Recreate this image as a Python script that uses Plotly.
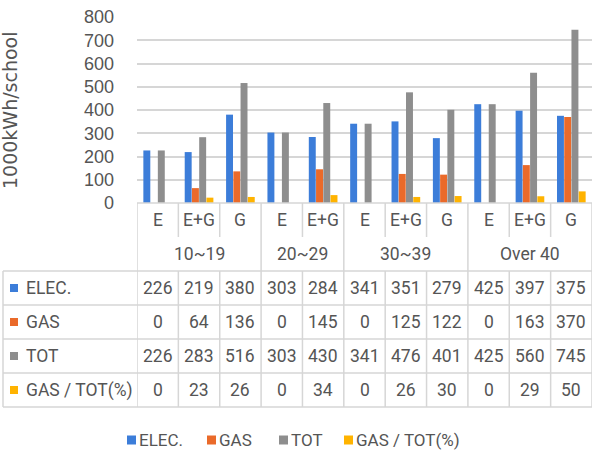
import plotly.graph_objects as go

# ---------------- data ----------------
sub_labels = ["E", "E+G", "G", "E", "E+G", "E", "E+G", "G", "E", "E+G", "G"]
group_labels = ["10~19", "20~29", "30~39", "Over 40"]
group_sizes = [3, 2, 3, 3]
series_names = ["ELEC.", "GAS", "TOT", "GAS / TOT(%)"]
elec = [226, 219, 380, 303, 284, 341, 351, 279, 425, 397, 375]
gas = [0, 64, 136, 0, 145, 0, 125, 122, 0, 163, 370]
tot = [226, 283, 516, 303, 430, 341, 476, 401, 425, 560, 745]
gas_ratio = [0, 23, 26, 0, 34, 0, 26, 30, 0, 29, 50]
y_ticks = [0, 100, 200, 300, 400, 500, 600, 700, 800]
y_title = "1000kWh/school"

series_values = [elec, gas, tot, gas_ratio]
colors = ["#3C7DD9", "#EA6A2A", "#8E8E8E", "#FFB300"]

# ---------------- layout constants ----------------
W, H = 592, 452
ML, MR, MT, MB = 137, 0, 17, 249
PW = W - ML - MR
PH = H - MT - MB
Y0 = MT + PH  # pixel y of value 0


def px_x(px):
    return (px - ML) / PW


def px_y(py):
    return (Y0 - py) / PH


TEXT = "#555555"
LINE = "#D6D6D6"
NARROW = "Liberation Sans Narrow, Arial Narrow, Roboto, sans-serif"
FS = 17.5

n = len(sub_labels)
xs = list(range(n))

fig = go.Figure()
for name, vals, col in zip(series_names, series_values, colors):
    fig.add_trace(go.Bar(x=xs, y=vals, name=name, marker_color=col,
                         marker_line_width=0, showlegend=False))

shapes = []
annotations = []


def label(x, y, text, xref="x", xanchor="center", size=FS, family=NARROW, angle=0):
    annotations.append(dict(x=x, y=y, xref=xref, yref="paper", text=text,
                            xanchor=xanchor, yanchor="middle", showarrow=False,
                            textangle=angle,
                            font=dict(family=family, size=size, color=TEXT)))


row_sub_bot, row_grp_bot = 237, 271
row_lines = [271, 305, 339, 373, 407]
table_left_px = 3

bounds = [-0.5]
acc = -0.5
for g in group_sizes:
    acc += g
    bounds.append(acc)

shapes.append(dict(type="line", xref="x", yref="paper", x0=-0.5, x1=n - 0.5,
                   y0=px_y(Y0), y1=px_y(Y0), line=dict(color=LINE, width=1.5)))
for i in range(n + 1):
    xb = i - 0.5
    y1 = row_grp_bot if xb in bounds else row_sub_bot
    shapes.append(dict(type="line", xref="x", yref="paper", x0=xb, x1=xb,
                       y0=px_y(Y0), y1=px_y(y1), line=dict(color=LINE, width=1.5)))
    shapes.append(dict(type="line", xref="x", yref="paper", x0=xb, x1=xb,
                       y0=px_y(row_lines[0]), y1=px_y(row_lines[-1]),
                       line=dict(color=LINE, width=1.5)))
shapes.append(dict(type="line", xref="paper", yref="paper",
                   x0=px_x(table_left_px), x1=px_x(table_left_px),
                   y0=px_y(row_lines[0]), y1=px_y(row_lines[-1]),
                   line=dict(color=LINE, width=1.5)))
for ry in row_lines:
    shapes.append(dict(type="line", xref="paper", yref="paper",
                       x0=px_x(table_left_px), x1=1, y0=px_y(ry), y1=px_y(ry),
                       line=dict(color=LINE, width=1.5)))

for i, lab in enumerate(sub_labels):
    label(i, px_y(220), lab)
start = 0
for g, lab in zip(group_sizes, group_labels):
    label(start + (g - 1) / 2, px_y(254), lab)
    start += g

for r, (name, vals, col) in enumerate(zip(series_names, series_values, colors)):
    yc = (row_lines[r] + row_lines[r + 1]) / 2
    for i, v in enumerate(vals):
        label(i, px_y(yc), str(v))
    shapes.append(dict(type="rect", xref="paper", yref="paper",
                       x0=px_x(10), x1=px_x(18), y0=px_y(yc - 4), y1=px_y(yc + 4),
                       fillcolor=col, line=dict(width=0)))
    label(px_x(24), px_y(yc), name, xref="paper", xanchor="left")

leg_y = 440
leg_x = [127, 207, 279, 344]
for name, col, lx in zip(series_names, colors, leg_x):
    shapes.append(dict(type="rect", xref="paper", yref="paper",
                       x0=px_x(lx), x1=px_x(lx + 9), y0=px_y(leg_y - 4.5), y1=px_y(leg_y + 4.5),
                       fillcolor=col, line=dict(width=0)))
    label(px_x(lx + 10), px_y(leg_y), name, xref="paper", xanchor="left", size=17)

label(px_x(10), px_y(110), y_title, xref="paper", xanchor="center",
      size=19, family="DejaVu Sans", angle=-90)

fig.update_layout(
    width=W, height=H,
    margin=dict(l=ML, r=MR, t=MT, b=MB, pad=0),
    paper_bgcolor="white", plot_bgcolor="white",
    barmode="group", bargap=0.3, bargroupgap=0.04,
    shapes=shapes, annotations=annotations,
    xaxis=dict(range=[-0.5, n - 0.5], showticklabels=False, showgrid=False,
               zeroline=False, showline=False, ticks=""),
    yaxis=dict(range=[0, 800], tickvals=y_ticks, showgrid=True, gridcolor=LINE,
               gridwidth=1.5, zeroline=False, showline=False, ticks="",
               ticklabelstandoff=22,
               tickfont=dict(family="Liberation Sans, Arial, sans-serif", size=18, color=TEXT)),
    showlegend=False,
)

fig.write_html("out.html")
